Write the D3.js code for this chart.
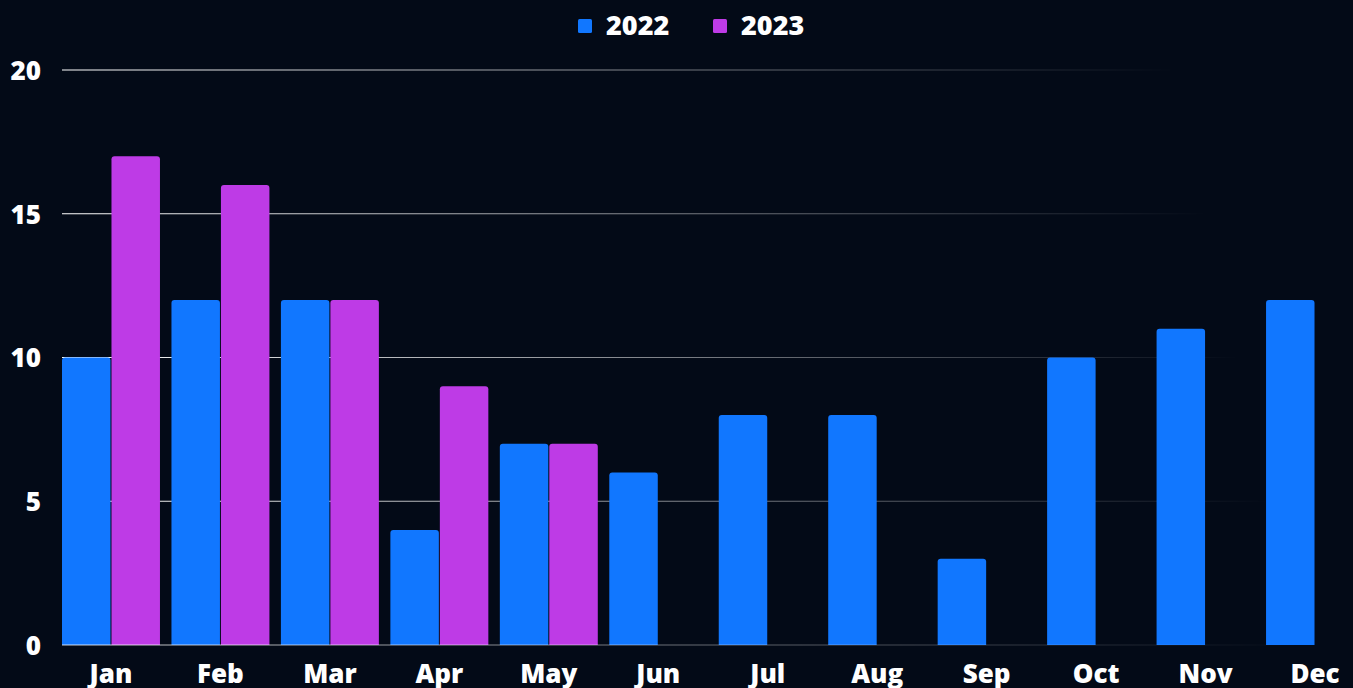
<!DOCTYPE html>
<html>
<head>
<meta charset="utf-8">
<script src="https://cdn.jsdelivr.net/npm/d3@7"></script>
<style>
  html, body { margin: 0; padding: 0; background: #030a17; overflow: hidden; }
  svg text { font-family: "Open Sans", "Noto Sans", sans-serif; font-weight: 800; fill: #ffffff; }
</style>
</head>
<body>
<div id="chart"></div>
<script>
////
// DATA
////
const months = ["Jan", "Feb", "Mar", "Apr", "May", "Jun", "Jul", "Aug", "Sep", "Oct", "Nov", "Dec"];
const years = ["2022", "2023"];
const values_2022 = [10, 12, 12, 4, 7, 6, 8, 8, 3, 10, 11, 12];
const values_2023 = [17, 16, 12, 9, 7, null, null, null, null, null, null, null];
const y_ticks = [0, 5, 10, 15, 20];
const year_colors = { "2022": "#1177ff", "2023": "#be3be6" };

const series = { "2022": values_2022, "2023": values_2023 };
var bar_data = [];
months.forEach((m, i) => {
    years.forEach(yr => {
        if (series[yr][i] != null) bar_data.push({ month: m, year: yr, value: series[yr][i] });
    });
});

////
// CONTAINER
////
const width = 1353, height = 688;
const margin = { top: 70, right: -11, bottom: 43, left: 62 };

const svg = d3.select("#chart")
    .append("svg")
    .attr("width", width)
    .attr("height", height);

// x scales: month groups, then year within group
var x0 = d3.scaleBand()
    .domain(months)
    .range([margin.left, width - margin.right])
    .paddingInner(0.105)
    .paddingOuter(0);

var x1 = d3.scaleBand()
    .domain(years)
    .range([0, x0.bandwidth()])
    .paddingInner(0.02);

var y = d3.scaleLinear()
    .domain([0, 20])
    .range([height - margin.bottom, margin.top]);

// fading gridlines
const defs = svg.append("defs");
y_ticks.forEach(t => {
    const g = defs.append("linearGradient")
        .attr("id", "grid_fade_" + t)
        .attr("gradientUnits", "userSpaceOnUse")
        .attr("x1", margin.left).attr("x2", 1300 - t * 6.25)
        .attr("y1", 0).attr("y2", 0);
    g.append("stop").attr("offset", "0%").attr("stop-color", "#ffffff").attr("stop-opacity", 1);
    g.append("stop").attr("offset", "100%").attr("stop-color", "#ffffff").attr("stop-opacity", 0);
});

svg.append("g")
    .selectAll("rect")
    .data(y_ticks.filter(t => t > 0))
    .enter()
    .append("rect")
    .attr("x", margin.left)
    .attr("y", d => y(d) - 0.5)
    .attr("width", d => 1300 - d * 6.25 - margin.left)
    .attr("height", 1)
    .attr("fill", d => "url(#grid_fade_" + d + ")");

// bars (rounded top corners)
function topRounded(x, yTop, w, h, r) {
    return `M${x},${yTop + h} V${yTop + r} Q${x},${yTop} ${x + r},${yTop} H${x + w - r} Q${x + w},${yTop} ${x + w},${yTop + r} V${yTop + h} Z`;
}

svg.append("g")
    .selectAll("path")
    .data(bar_data)
    .enter()
    .append("path")
    .attr("d", d => {
        const bx = x0(d.month) + x1(d.year);
        const by = y(d.value);
        return topRounded(bx, by, x1.bandwidth(), y(0) - by, 3);
    })
    .attr("fill", d => year_colors[d.year]);

// baseline
svg.append("rect")
    .attr("x", margin.left)
    .attr("y", y(0) - 0.5)
    .attr("width", 1300 - margin.left)
    .attr("height", 1)
    .attr("fill", "url(#grid_fade_0)")
    .style("opacity", 0.8);

// y axis labels
var y_axis = svg.append("g")
    .attr("transform", `translate(41, 0)`)
    .call(d3.axisLeft(y).tickValues(y_ticks).tickSize(0).tickPadding(0));
y_axis.select(".domain").remove();
y_axis.selectAll(".tick text")
    .attr("x", 0)
    .style("font-size", "26px")
    .style("font-family", "'Open Sans', sans-serif")
    .style("font-weight", 800)
    .attr("fill", "#ffffff")
    .attr("dy", "0.36em");

// x axis labels
var x_axis = svg.append("g")
    .attr("transform", `translate(0, ${y(0)})`)
    .call(d3.axisBottom(x0).tickSize(0).tickPadding(0));
x_axis.select(".domain").remove();
x_axis.selectAll(".tick text")
    .style("font-size", "26px")
    .style("font-family", "'Open Sans', sans-serif")
    .style("font-weight", 800)
    .attr("fill", "#ffffff")
    .attr("y", 38)
    .attr("dy", 0);

// legend
const legend_x = [578, 713];
var legend = svg.append("g")
    .selectAll("g")
    .data(years)
    .enter()
    .append("g")
    .attr("transform", (d, i) => `translate(${legend_x[i]}, 19)`);

legend.append("rect")
    .attr("width", 14)
    .attr("height", 14)
    .attr("rx", 1.5)
    .attr("fill", d => year_colors[d]);

legend.append("text")
    .attr("x", 28)
    .attr("y", 15.5)
    .style("font-size", "27px")
    .text(d => d);
</script>
</body>
</html>
